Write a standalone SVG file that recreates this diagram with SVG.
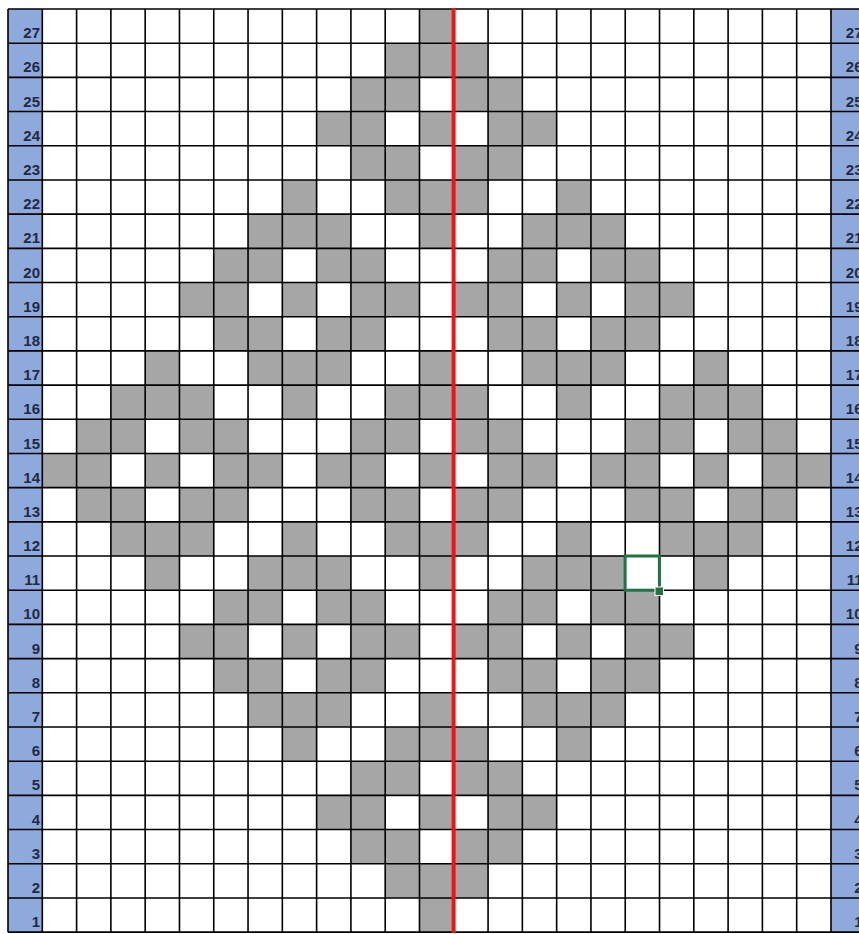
<svg xmlns="http://www.w3.org/2000/svg" width="859" height="934" viewBox="0 0 859 934">
  <style>
    .lbl { font-family: "Liberation Sans", Arial, sans-serif; font-weight: bold; font-size: 15px; fill: #1F2A44; text-anchor: end; }
    .grid { fill: none; stroke: #000; stroke-width: 1.6; vector-effect: non-scaling-stroke; }
  </style>
  <rect x="0" y="0" width="859" height="934" fill="#fff"/>
  <g id="chart" transform="translate(42.3 9) scale(34.29 34.19)">
    <g id="label-columns">
      <rect x="-1" y="0" width="1" height="27" fill="#8EA9DB"/>
      <rect x="23" y="0" width="1" height="27" fill="#8EA9DB"/>
    </g>
    <path id="stitches" fill="#A6A6A6" d="
      M11 0h1v1h-1z
      M10 1h3v1h-3z
      M9 2h2v1h-2z M12 2h2v1h-2z
      M8 3h2v1h-2z M11 3h1v1h-1z M13 3h2v1h-2z
      M9 4h2v1h-2z M12 4h2v1h-2z
      M7 5h1v1h-1z M10 5h3v1h-3z M15 5h1v1h-1z
      M6 6h3v1h-3z M11 6h1v1h-1z M14 6h3v1h-3z
      M5 7h2v1h-2z M8 7h2v1h-2z M13 7h2v1h-2z M16 7h2v1h-2z
      M4 8h2v1h-2z M7 8h1v1h-1z M9 8h2v1h-2z M12 8h2v1h-2z M15 8h1v1h-1z M17 8h2v1h-2z
      M5 9h2v1h-2z M8 9h2v1h-2z M13 9h2v1h-2z M16 9h2v1h-2z
      M3 10h1v1h-1z M6 10h3v1h-3z M11 10h1v1h-1z M14 10h3v1h-3z M19 10h1v1h-1z
      M2 11h3v1h-3z M7 11h1v1h-1z M10 11h3v1h-3z M15 11h1v1h-1z M18 11h3v1h-3z
      M1 12h2v1h-2z M4 12h2v1h-2z M9 12h2v1h-2z M12 12h2v1h-2z M17 12h2v1h-2z M20 12h2v1h-2z
      M0 13h2v1h-2z M3 13h1v1h-1z M5 13h2v1h-2z M8 13h2v1h-2z M11 13h1v1h-1z M13 13h2v1h-2z M16 13h2v1h-2z M19 13h1v1h-1z M21 13h2v1h-2z
      M1 14h2v1h-2z M4 14h2v1h-2z M9 14h2v1h-2z M12 14h2v1h-2z M17 14h2v1h-2z M20 14h2v1h-2z
      M2 15h3v1h-3z M7 15h1v1h-1z M10 15h3v1h-3z M15 15h1v1h-1z M18 15h3v1h-3z
      M3 16h1v1h-1z M6 16h3v1h-3z M11 16h1v1h-1z M14 16h3v1h-3z M19 16h1v1h-1z
      M5 17h2v1h-2z M8 17h2v1h-2z M13 17h2v1h-2z M16 17h2v1h-2z
      M4 18h2v1h-2z M7 18h1v1h-1z M9 18h2v1h-2z M12 18h2v1h-2z M15 18h1v1h-1z M17 18h2v1h-2z
      M5 19h2v1h-2z M8 19h2v1h-2z M13 19h2v1h-2z M16 19h2v1h-2z
      M6 20h3v1h-3z M11 20h1v1h-1z M14 20h3v1h-3z
      M7 21h1v1h-1z M10 21h3v1h-3z M15 21h1v1h-1z
      M9 22h2v1h-2z M12 22h2v1h-2z
      M8 23h2v1h-2z M11 23h1v1h-1z M13 23h2v1h-2z
      M9 24h2v1h-2z M12 24h2v1h-2z
      M10 25h3v1h-3z
      M11 26h1v1h-1z"/>
    <path id="gridlines" class="grid" d="
      M-1 0V27 M0 0V27 M1 0V27 M2 0V27 M3 0V27 M4 0V27 M5 0V27 M6 0V27 M7 0V27 M8 0V27
      M9 0V27 M10 0V27 M11 0V27 M12 0V27 M13 0V27 M14 0V27 M15 0V27 M16 0V27 M17 0V27
      M18 0V27 M19 0V27 M20 0V27 M21 0V27 M22 0V27 M23 0V27 M24 0V27
      M-1 0H24 M-1 1H24 M-1 2H24 M-1 3H24 M-1 4H24 M-1 5H24 M-1 6H24 M-1 7H24 M-1 8H24
      M-1 9H24 M-1 10H24 M-1 11H24 M-1 12H24 M-1 13H24 M-1 14H24 M-1 15H24 M-1 16H24
      M-1 17H24 M-1 18H24 M-1 19H24 M-1 20H24 M-1 21H24 M-1 22H24 M-1 23H24 M-1 24H24
      M-1 25H24 M-1 26H24 M-1 27H24"/>
  </g>
  <g id="row-labels-left" class="lbl">
    <text class="lbl" x="40" y="38.2">27</text>
    <text class="lbl" x="40" y="72.4">26</text>
    <text class="lbl" x="40" y="106.6">25</text>
    <text class="lbl" x="40" y="140.8">24</text>
    <text class="lbl" x="40" y="175">23</text>
    <text class="lbl" x="40" y="209.1">22</text>
    <text class="lbl" x="40" y="243.3">21</text>
    <text class="lbl" x="40" y="277.5">20</text>
    <text class="lbl" x="40" y="311.7">19</text>
    <text class="lbl" x="40" y="345.9">18</text>
    <text class="lbl" x="40" y="380.1">17</text>
    <text class="lbl" x="40" y="414.3">16</text>
    <text class="lbl" x="40" y="448.5">15</text>
    <text class="lbl" x="40" y="482.7">14</text>
    <text class="lbl" x="40" y="516.9">13</text>
    <text class="lbl" x="40" y="551">12</text>
    <text class="lbl" x="40" y="585.2">11</text>
    <text class="lbl" x="40" y="619.4">10</text>
    <text class="lbl" x="40" y="653.6">9</text>
    <text class="lbl" x="40" y="687.8">8</text>
    <text class="lbl" x="40" y="722">7</text>
    <text class="lbl" x="40" y="756.2">6</text>
    <text class="lbl" x="40" y="790.4">5</text>
    <text class="lbl" x="40" y="824.6">4</text>
    <text class="lbl" x="40" y="858.8">3</text>
    <text class="lbl" x="40" y="892.9">2</text>
    <text class="lbl" x="40" y="927.1">1</text>
  </g>
  <g id="row-labels-right">
    <text class="lbl" x="862.5" y="38.2">27</text>
    <text class="lbl" x="862.5" y="72.4">26</text>
    <text class="lbl" x="862.5" y="106.6">25</text>
    <text class="lbl" x="862.5" y="140.8">24</text>
    <text class="lbl" x="862.5" y="175">23</text>
    <text class="lbl" x="862.5" y="209.1">22</text>
    <text class="lbl" x="862.5" y="243.3">21</text>
    <text class="lbl" x="862.5" y="277.5">20</text>
    <text class="lbl" x="862.5" y="311.7">19</text>
    <text class="lbl" x="862.5" y="345.9">18</text>
    <text class="lbl" x="862.5" y="380.1">17</text>
    <text class="lbl" x="862.5" y="414.3">16</text>
    <text class="lbl" x="862.5" y="448.5">15</text>
    <text class="lbl" x="862.5" y="482.7">14</text>
    <text class="lbl" x="862.5" y="516.9">13</text>
    <text class="lbl" x="862.5" y="551">12</text>
    <text class="lbl" x="862.5" y="585.2">11</text>
    <text class="lbl" x="862.5" y="619.4">10</text>
    <text class="lbl" x="862.5" y="653.6">9</text>
    <text class="lbl" x="862.5" y="687.8">8</text>
    <text class="lbl" x="862.5" y="722">7</text>
    <text class="lbl" x="862.5" y="756.2">6</text>
    <text class="lbl" x="862.5" y="790.4">5</text>
    <text class="lbl" x="862.5" y="824.6">4</text>
    <text class="lbl" x="862.5" y="858.8">3</text>
    <text class="lbl" x="862.5" y="892.9">2</text>
    <text class="lbl" x="862.5" y="927.1">1</text>
  </g>
  <g id="center-line">
    <line x1="453.6" y1="8" x2="453.6" y2="933" stroke="#F01414" stroke-width="4"/>
  </g>
  <g id="selection">
    <rect x="625.1" y="556" width="34.3" height="34.2" fill="none" stroke="#217346" stroke-width="3"/>
    <rect x="655" y="587" width="8.5" height="8.5" fill="#217346" stroke="#fff" stroke-width="1"/>
  </g>
</svg>
